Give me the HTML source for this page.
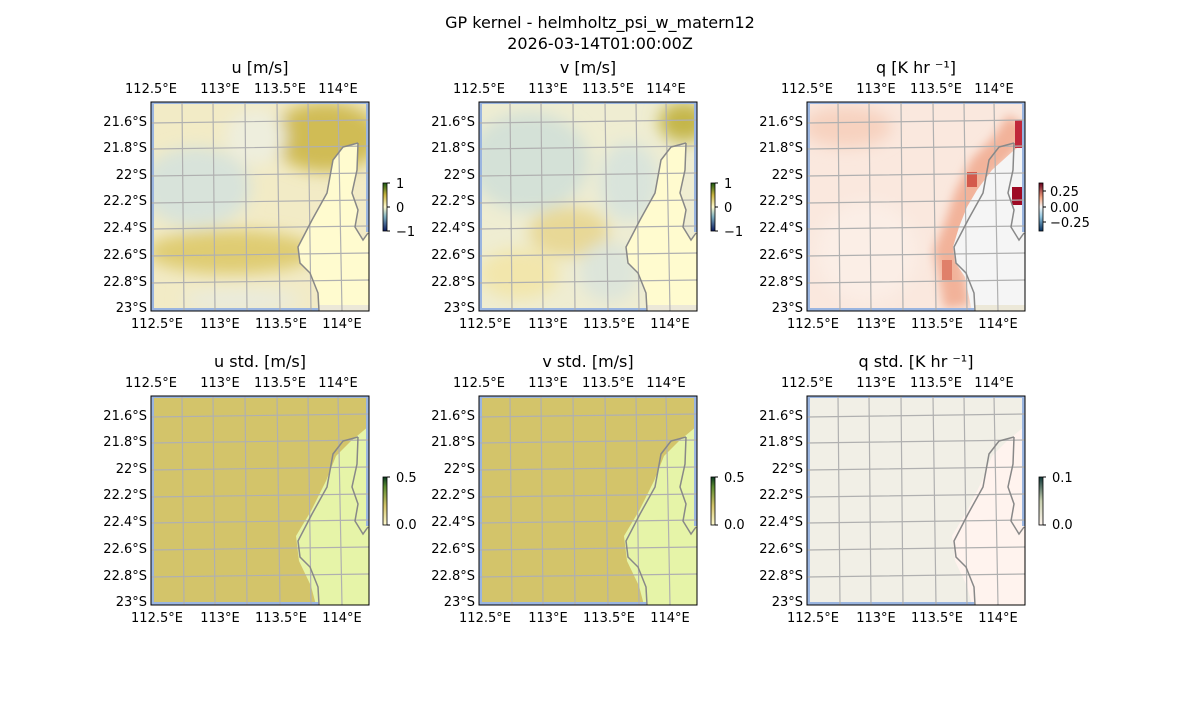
<!DOCTYPE html>
<html><head><meta charset="utf-8"><style>
body{margin:0;background:#fff}
svg text{font-family:"DejaVu Sans","Liberation Sans",sans-serif;font-size:13px;fill:#000}
.t{font-size:16px}
</style></head><body>
<svg width="1200" height="700" viewBox="0 0 1200 700" xmlns="http://www.w3.org/2000/svg">
<defs>
<filter id="b" x="-30%" y="-30%" width="160%" height="160%"><feGaussianBlur stdDeviation="8"/></filter>
<filter id="b2" x="-30%" y="-30%" width="160%" height="160%"><feGaussianBlur stdDeviation="5"/></filter>
<clipPath id="cp"><rect x="0" y="0" width="218" height="209"/></clipPath>
<g id="grid" stroke="#b0b0b0" stroke-width="1.2" fill="none">
<path d="M31 0L33 209M62 0L64 209M94 0L96 209M126 0L129 209M157 0L160 209M187 0L191 209"/>
<path d="M0 21L218 18M0 47L218 44M0 74L218 71M0 101L218 98M0 127L218 124M0 154L218 151M0 181L218 178"/>
</g>
<path id="coast" d="M207 41L192 45L182 58L176 91L161 118L147 145L149 161L159 171L167 191L168 209M207 41L206 68L201 91L207 108L204 125L212 138L217 131" fill="none" stroke="#888" stroke-width="1.5"/>
<path id="land" d="M207 41L192 45L182 58L176 91L161 118L147 145L149 161L159 171L167 191L168 209L218 209L218 131L212 138L204 125L207 108L201 91L206 68Z"/>
<g id="edge" fill="#9ab5e0"><rect x="0" y="0" width="3" height="209"/><rect x="0" y="0" width="218" height="2"/><rect x="0" y="206" width="168" height="3"/><rect x="215" y="0" width="3" height="130"/></g>
<g id="ticks">
<text x="-4" y="24" text-anchor="end">21.6°S</text><text x="-4" y="50" text-anchor="end">21.8°S</text><text x="-4" y="77" text-anchor="end">22°S</text><text x="-4" y="103" text-anchor="end">22.2°S</text><text x="-4" y="130" text-anchor="end">22.4°S</text><text x="-4" y="157" text-anchor="end">22.6°S</text><text x="-4" y="184" text-anchor="end">22.8°S</text><text x="-4" y="210" text-anchor="end">23°S</text>
<text x="0" y="-9" text-anchor="middle">112.5°E</text><text x="69" y="-9" text-anchor="middle">113°E</text><text x="129" y="-9" text-anchor="middle">113.5°E</text><text x="187" y="-9" text-anchor="middle">114°E</text>
<text x="6" y="226" text-anchor="middle">112.5°E</text><text x="69" y="226" text-anchor="middle">113°E</text><text x="130" y="226" text-anchor="middle">113.5°E</text><text x="191" y="226" text-anchor="middle">114°E</text>
</g>
</defs>
<text class="t" x="600" y="28" text-anchor="middle">GP kernel - helmholtz_psi_w_matern12</text>
<text class="t" x="600" y="49" text-anchor="middle">2026-03-14T01:00:00Z</text>

<!-- u -->
<g transform="translate(151,102)">
<g clip-path="url(#cp)">
<rect width="218" height="209" fill="#f2ebc6"/>
<g filter="url(#b)">
<ellipse cx="45" cy="85" rx="55" ry="40" fill="#d8e3da"/>
<ellipse cx="175" cy="35" rx="55" ry="35" fill="#d0bc55"/>
<ellipse cx="80" cy="150" rx="85" ry="22" fill="#dfcc72"/>
<ellipse cx="105" cy="35" rx="30" ry="28" fill="#eeeedd"/>
<ellipse cx="90" cy="198" rx="60" ry="10" fill="#e9ebde"/>
</g>
<use href="#land" fill="#fffbcf"/>
<rect x="168" y="203" width="50" height="6" fill="#ece8d8"/>
<use href="#edge"/>
<use href="#grid"/><use href="#coast"/>
</g>
<rect width="218" height="209" fill="none" stroke="#000"/>
<use href="#ticks"/>
<text class="t" x="109" y="-29" text-anchor="middle">u [m/s]</text>
</g>
<!-- v -->
<g transform="translate(479,102)">
<g clip-path="url(#cp)">
<rect width="218" height="209" fill="#efedd2"/>
<g filter="url(#b)">
<ellipse cx="50" cy="60" rx="60" ry="50" fill="#d4e1d7"/>
<ellipse cx="150" cy="80" rx="30" ry="40" fill="#d9e4db"/>
<ellipse cx="90" cy="130" rx="40" ry="25" fill="#e8d896"/>
<ellipse cx="40" cy="172" rx="40" ry="25" fill="#f2e6ac"/>
<ellipse cx="205" cy="20" rx="25" ry="20" fill="#c4b648"/>
<ellipse cx="130" cy="170" rx="30" ry="30" fill="#dde5da"/>
</g>
<use href="#land" fill="#fffbcf"/>
<rect x="168" y="203" width="50" height="6" fill="#ece8d8"/>
<use href="#edge"/>
<use href="#grid"/><use href="#coast"/>
</g>
<rect width="218" height="209" fill="none" stroke="#000"/>
<use href="#ticks"/>
<text class="t" x="109" y="-29" text-anchor="middle">v [m/s]</text>
</g>
<!-- q -->
<g transform="translate(807,102)">
<g clip-path="url(#cp)">
<rect width="218" height="209" fill="#fae8de"/>
<g filter="url(#b)">
<ellipse cx="40" cy="25" rx="45" ry="20" fill="#f7d2bf"/>
<ellipse cx="60" cy="150" rx="50" ry="50" fill="#fbeee6"/>
</g>
<path d="M212 20L195 45L175 65L160 95L150 125L140 150L145 175L150 205" fill="none" stroke="#f2b29a" stroke-width="26" filter="url(#b2)"/>
<path d="M218 0L218 40L205 50L185 68L170 88L160 105L152 125L146 145L148 160L158 175L163 200L165 209L218 209Z" fill="#f5f5f5"/>
<rect x="205" y="85" width="10" height="18" fill="#9e0a24"/><rect x="208" y="18" width="8" height="28" fill="#c0283a"/>
<rect x="160" y="70" width="10" height="15" fill="#d45a4c"/><rect x="135" y="158" width="10" height="20" fill="#e0806a"/>
<rect x="168" y="203" width="50" height="6" fill="#ece8d8"/>
<use href="#edge"/>
<use href="#grid"/><use href="#coast"/>
</g>
<rect width="218" height="209" fill="none" stroke="#000"/>
<use href="#ticks"/>
<text class="t" x="109" y="-29" text-anchor="middle">q [K hr ⁻¹]</text>
</g>
<!-- u std -->
<g transform="translate(151,396)">
<g clip-path="url(#cp)">
<rect width="218" height="209" fill="#d3c46a"/>
<path d="M218 0L218 30L200 45L185 60L175 85L160 115L145 140L148 165L160 190L165 209L218 209Z" fill="#e6f4a8"/>
<use href="#edge"/>
<use href="#grid"/><use href="#coast"/>
</g>
<rect width="218" height="209" fill="none" stroke="#000"/>
<use href="#ticks"/>
<text class="t" x="109" y="-29" text-anchor="middle">u std. [m/s]</text>
</g>
<!-- v std -->
<g transform="translate(479,396)">
<g clip-path="url(#cp)">
<rect width="218" height="209" fill="#d3c46a"/>
<path d="M218 0L218 30L200 45L185 60L175 85L160 115L145 140L148 165L160 190L165 209L218 209Z" fill="#e6f4a8"/>
<use href="#edge"/>
<use href="#grid"/><use href="#coast"/>
</g>
<rect width="218" height="209" fill="none" stroke="#000"/>
<use href="#ticks"/>
<text class="t" x="109" y="-29" text-anchor="middle">v std. [m/s]</text>
</g>
<!-- q std -->
<g transform="translate(807,396)">
<g clip-path="url(#cp)">
<rect width="218" height="209" fill="#f1efe6"/>
<path d="M218 0L218 30L200 45L185 60L175 85L160 115L145 140L148 165L160 190L165 209L218 209Z" fill="#fff3ee"/>
<use href="#edge"/>
<use href="#grid"/><use href="#coast"/>
</g>
<rect width="218" height="209" fill="none" stroke="#000"/>
<use href="#ticks"/>
<text class="t" x="109" y="-29" text-anchor="middle">q std. [K hr ⁻¹]</text>
</g>

<!-- colorbars -->
<defs>
<linearGradient id="cbu" x1="0" y1="1" x2="0" y2="0"><stop offset="0" stop-color="#0a1a60"/><stop offset="0.3" stop-color="#7fb0c0"/><stop offset="0.5" stop-color="#fffbcf"/><stop offset="0.75" stop-color="#c8b440"/><stop offset="1" stop-color="#1a5a10"/></linearGradient>
<linearGradient id="cbq" x1="0" y1="1" x2="0" y2="0"><stop offset="0" stop-color="#053061"/><stop offset="0.3" stop-color="#92c5de"/><stop offset="0.5" stop-color="#f7f7f7"/><stop offset="0.7" stop-color="#f4a582"/><stop offset="1" stop-color="#67001f"/></linearGradient>
<linearGradient id="cbs" x1="0" y1="1" x2="0" y2="0"><stop offset="0" stop-color="#fffbd0"/><stop offset="0.4" stop-color="#d3c46a"/><stop offset="0.8" stop-color="#5a8a30"/><stop offset="1" stop-color="#0a3a20"/></linearGradient>
<linearGradient id="cbqs" x1="0" y1="1" x2="0" y2="0"><stop offset="0" stop-color="#fff5ee"/><stop offset="0.5" stop-color="#c8d0b0"/><stop offset="1" stop-color="#103838"/></linearGradient>
</defs>
<g font-size="13">
<rect x="383" y="183" width="4" height="48" fill="url(#cbu)" stroke="#000" stroke-width="0.8"/>
<path d="M387 183h3M387 207h3M387 231h3" stroke="#000"/>
<text x="396" y="188">1</text><text x="396" y="212">0</text><text x="396" y="236">−1</text>
<rect x="711" y="183" width="4" height="48" fill="url(#cbu)" stroke="#000" stroke-width="0.8"/>
<path d="M715 183h3M715 207h3M715 231h3" stroke="#000"/>
<text x="724" y="188">1</text><text x="724" y="212">0</text><text x="724" y="236">−1</text>
<rect x="1039" y="183" width="4" height="48" fill="url(#cbq)" stroke="#000" stroke-width="0.8"/>
<path d="M1043 191h3M1043 207h3M1043 222h3" stroke="#000"/>
<text x="1050" y="196">0.25</text><text x="1050" y="212">0.00</text><text x="1050" y="227">−0.25</text>
<rect x="383" y="477" width="4" height="48" fill="url(#cbs)" stroke="#000" stroke-width="0.8"/>
<path d="M387 477h3M387 525h3" stroke="#000"/>
<text x="396" y="482">0.5</text><text x="396" y="529">0.0</text>
<rect x="711" y="477" width="4" height="48" fill="url(#cbs)" stroke="#000" stroke-width="0.8"/>
<path d="M715 477h3M715 525h3" stroke="#000"/>
<text x="724" y="482">0.5</text><text x="724" y="529">0.0</text>
<rect x="1039" y="477" width="4" height="48" fill="url(#cbqs)" stroke="#000" stroke-width="0.8"/>
<path d="M1043 477h3M1043 525h3" stroke="#000"/>
<text x="1052" y="482">0.1</text><text x="1052" y="529">0.0</text>
</g>
</svg>
</body></html>
